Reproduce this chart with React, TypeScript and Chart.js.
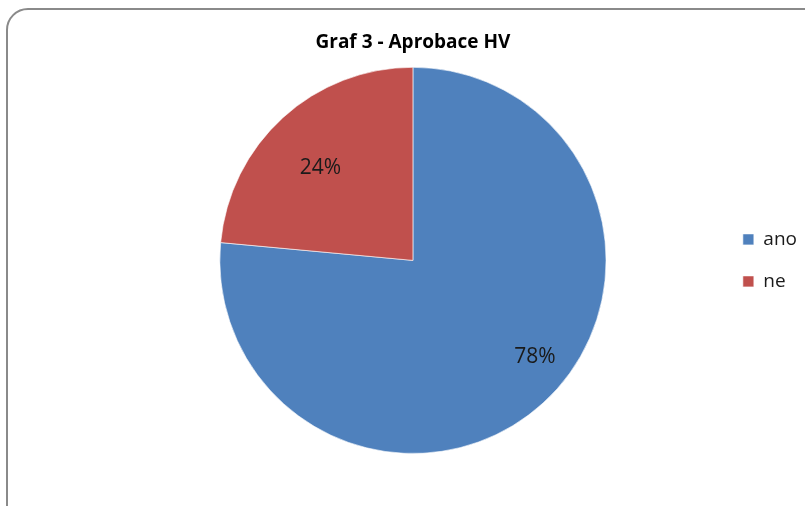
import React, { useEffect, useRef } from "react";
import { Chart, registerables } from "chart.js";

Chart.register(...registerables);

const categories = ["ano", "ne"];
const values = [78, 24];
const valueLabels = ["78%", "24%"];
const colors = ["#4F81BD", "#C0504D"];
const titleText = "Graf 3 - Aprobace HV";

// label placement (Excel best-fit style): angle shift in degrees and radial fraction
const labelAngleShift = [-9.8, -2];
const labelRadiusFraction = [0.8, 0.685];

const FONT = "'Open Sans', 'Noto Sans', sans-serif";

const sliceLabels = {
  id: "sliceLabels",
  afterDatasetsDraw(chart: any) {
    const { ctx } = chart;
    const meta = chart.getDatasetMeta(0);
    ctx.save();
    ctx.font = `21px ${FONT}`;
    ctx.fillStyle = "#1a1a1a";
    ctx.textAlign = "center";
    ctx.textBaseline = "middle";
    meta.data.forEach((arc: any, i: number) => {
      const p = arc.getProps(["x", "y", "startAngle", "endAngle", "outerRadius"], true);
      const mid = (p.startAngle + p.endAngle) / 2 + (labelAngleShift[i] * Math.PI) / 180;
      const r = p.outerRadius * labelRadiusFraction[i];
      // +2px compensates for the font's optical middle
      ctx.fillText(valueLabels[i], p.x + Math.cos(mid) * r, p.y + Math.sin(mid) * r + 2);
    });
    ctx.restore();
  },
};

export default function App() {
  const ref = useRef<HTMLCanvasElement>(null);
  useEffect(() => {
    if (!ref.current) return;
    const chart = new Chart(ref.current, {
      type: "pie",
      data: {
        labels: categories,
        datasets: [
          {
            data: values,
            backgroundColor: colors,
            borderColor: "rgba(255,255,255,0.6)",
            borderWidth: 1,
          },
        ],
      },
      options: {
        responsive: false,
        animation: false,
        layout: { padding: { left: 106, right: -2, top: 0, bottom: 52 } },
        plugins: {
          tooltip: { enabled: false },
          title: {
            display: true,
            fullSize: false,
            text: titleText,
            color: "#000",
            font: { family: FONT, size: 19, weight: "bold" },
            padding: { top: 31, bottom: 13 },
          },
          legend: {
            display: true,
            fullSize: false,
            position: "right",
            labels: {
              boxWidth: 11,
              boxHeight: 11,
              padding: 23,
              color: "#1a1a1a",
              font: { family: FONT, size: 19 },
            },
          },
        },
      },
      plugins: [sliceLabels],
    });
    return () => chart.destroy();
  }, []);

  return (
    <div style={{ position: "fixed", left: 0, top: 0, width: 805, height: 506, background: "#fff", overflow: "hidden" }}>
      <div
        style={{
          position: "absolute",
          left: 6,
          top: 8,
          width: 830,
          height: 520,
          border: "2px solid #8a8a8a",
          borderRadius: 22,
          boxSizing: "border-box",
        }}
      />
      <canvas ref={ref} width={805} height={506} style={{ position: "absolute", left: 0, top: 0 }} />
    </div>
  );
}
